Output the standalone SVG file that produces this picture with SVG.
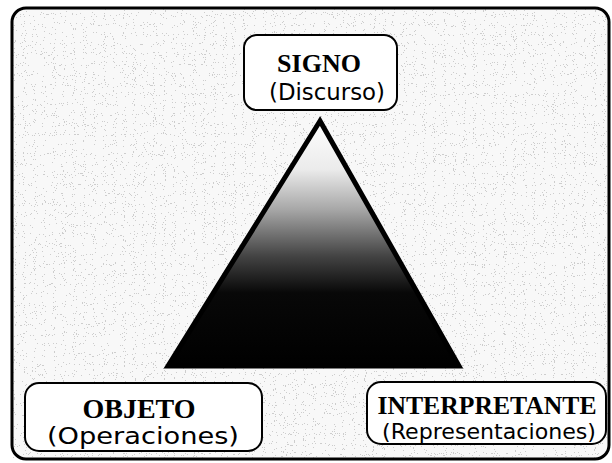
<svg xmlns="http://www.w3.org/2000/svg" width="612" height="463" viewBox="0 0 612 463">
<style>
.box{fill:#fff;stroke:#000;stroke-width:2}
.t{font-family:"Liberation Serif","Times New Roman",serif;font-weight:bold;fill:#000;text-anchor:middle}
.s{font-family:"DejaVu Sans","Liberation Sans",sans-serif;fill:#000;text-anchor:middle}
</style>
<defs>
<linearGradient id="g" x1="0" y1="120" x2="0" y2="367" gradientUnits="userSpaceOnUse">
<stop offset="0" stop-color="#ffffff"/>
<stop offset="0.2" stop-color="#ebebeb"/>
<stop offset="0.36" stop-color="#a8a8a8"/>
<stop offset="0.55" stop-color="#444"/>
<stop offset="0.7" stop-color="#080808"/>
<stop offset="1" stop-color="#000"/>
</linearGradient>
<filter id="n" x="0" y="0" width="100%" height="100%">
<feTurbulence type="fractalNoise" baseFrequency="0.9" numOctaves="1" seed="3" result="t"/>
<feColorMatrix in="t" type="matrix" values="0 0 0 0 0  0 0 0 0 0  0 0 0 0 0  0 0 0 -2.2 1.45"/>
<feComponentTransfer><feFuncA type="discrete" tableValues="0 0 0 0.5"/></feComponentTransfer>
</filter>
</defs>
<rect x="0" y="0" width="612" height="463" fill="#fff"/>
<g id="frame">
<rect x="12" y="8" width="597" height="451" rx="14" fill="#f8f8f8"/>
<rect x="12" y="8" width="597" height="451" rx="14" fill="#000" filter="url(#n)" opacity="0.35"/>
<rect x="12" y="8" width="597" height="451" rx="14" fill="none" stroke="#000" stroke-width="3"/>
</g>
<g id="connectors">
<polygon id="triangle" points="320,121 168,366 459,366" fill="url(#g)" stroke="#000" stroke-width="5" stroke-linejoin="miter"/>
</g>
<g id="signo">
<rect class="box" x="244" y="35" width="153" height="75" rx="13"/>
<text class="t" x="319" y="72" font-size="26">SIGNO</text>
<text class="s" x="327" y="100" font-size="23" textLength="116" lengthAdjust="spacingAndGlyphs">(Discurso)</text>
</g>
<g id="objeto">
<rect class="box" x="25" y="383" width="237" height="68" rx="14"/>
<text class="t" x="139" y="418" font-size="28">OBJETO</text>
<text class="s" x="143" y="444" font-size="23" textLength="192" lengthAdjust="spacingAndGlyphs">(Operaciones)</text>
</g>
<g id="interpretante">
<rect class="box" x="367" y="382" width="239" height="62" rx="14"/>
<text class="t" x="487" y="414" font-size="26" textLength="219" lengthAdjust="spacingAndGlyphs">INTERPRETANTE</text>
<text class="s" x="489" y="439" font-size="22" textLength="214" lengthAdjust="spacingAndGlyphs">(Representaciones)</text>
</g>
</svg>
